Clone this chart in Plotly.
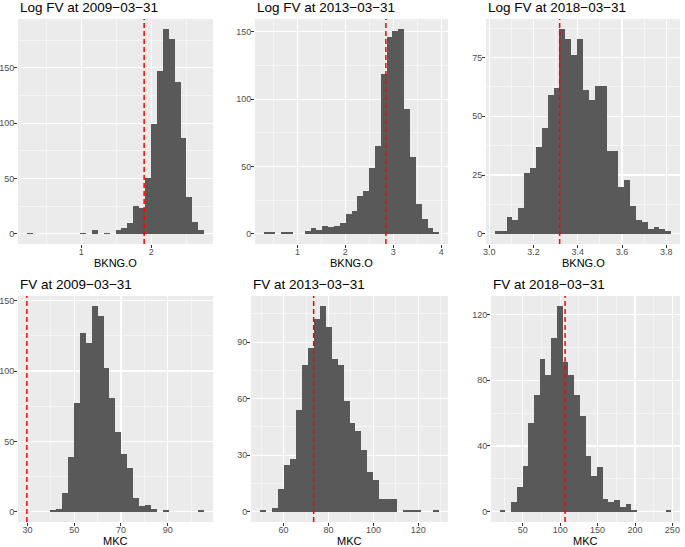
import plotly.graph_objects as go

# ---------------- data ----------------
titles = ["Log FV at 2009−03−31", "Log FV at 2013−03−31", "Log FV at 2018−03−31",
          "FV at 2009−03−31", "FV at 2013−03−31", "FV at 2018−03−31"]
xlabels = ["BKNG.O", "BKNG.O", "BKNG.O", "MKC", "MKC", "MKC"]

p1_start, p1_width = 0.223, 0.0845
p1_counts = [1, 0, 0, 0, 0, 0, 0, 0, 0, 1, 0, 3, 0, 1, 0, 3, 5, 10, 25, 23,
             50, 99, 147, 185, 176, 137, 87, 33, 11, 3]
p1_vline = 1.9

p2_start, p2_width = 0.298, 0.122
p2_counts = [1, 1, 0, 1, 1, 0, 0, 2, 4, 3, 6, 5, 6, 8, 15, 17, 28, 32, 49, 65,
             119, 146, 151, 152, 93, 57, 22, 11, 4, 1]
p2_vline = 2.845

p3_start, p3_width = 3.025, 0.02657
p3_counts = [1, 1, 7, 6, 11, 26, 28, 37, 45, 59, 62, 87, 83, 76, 83, 61, 57, 63, 63, 35,
             35, 20, 23, 12, 6, 5, 2, 3, 2, 1]
p3_vline = 3.318

p4_start, p4_width = 39.7, 2.535
p4_counts = [1, 2, 13, 39, 77, 127, 120, 146, 139, 102, 81, 57, 41, 31, 10, 4, 5, 2, 0, 1,
             0, 0, 0, 0, 0, 1]
p4_vline = 29.7

p5_start, p5_width = 49.5, 2.657
p5_counts = [1, 0, 2, 12, 25, 28, 54, 78, 87, 102, 109, 98, 81, 78, 59, 47, 43, 33, 21, 17,
             7, 7, 7, 0, 1, 1, 1, 0, 0, 1]
p5_vline = 73.4

p6_start, p6_width = 18.9, 7.66
p6_counts = [1, 0, 6, 15, 28, 54, 71, 93, 83, 106, 125, 91, 83, 71, 58, 34, 22, 27, 8, 6,
             7, 3, 5, 1, 0, 0, 0, 0, 0, 1]
p6_vline = 106.5

x_major = [[1, 2], [1, 2, 3, 4], [3.0, 3.2, 3.4, 3.6, 3.8],
           [30, 50, 70, 90], [60, 80, 100, 120], [50, 100, 150, 200, 250]]
x_ticktext = [["1", "2"], ["1", "2", "3", "4"], ["3.0", "3.2", "3.4", "3.6", "3.8"],
              ["30", "50", "70", "90"], ["60", "80", "100", "120"], ["50", "100", "150", "200", "250"]]
x_minor = [[0.5, 1.5, 2.5], [0.5, 1.5, 2.5, 3.5], [3.1, 3.3, 3.5, 3.7],
           [40, 60, 80, 100], [50, 70, 90, 110, 130], [25, 75, 125, 175, 225]]
y_major = [[0, 50, 100, 150], [0, 50, 100, 150], [0, 25, 50, 75],
           [0, 50, 100, 150], [0, 30, 60, 90], [0, 40, 80, 120]]
y_minor = [[25, 75, 125, 175], [25, 75, 125], [12.5, 37.5, 62.5, 87.5],
           [25, 75, 125], [15, 45, 75, 105], [20, 60, 100]]

panels = [
    (p1_start, p1_width, p1_counts, p1_vline),
    (p2_start, p2_width, p2_counts, p2_vline),
    (p3_start, p3_width, p3_counts, p3_vline),
    (p4_start, p4_width, p4_counts, p4_vline),
    (p5_start, p5_width, p5_counts, p5_vline),
    (p6_start, p6_width, p6_counts, p6_vline),
]

# ---------------- layout geometry (pixels) ----------------
W, H = 685, 547
boxes = [  # left, right, top, bottom
    (18, 213, 19, 244), (255, 448, 19, 244), (486, 680, 19, 244),
    (18, 213, 296, 522), (251, 448, 296, 522), (491, 680, 296, 522),
]

FONT = "Liberation Sans, Arial, Helvetica, sans-serif"
PANEL_BG = "#EBEBEB"
BAR = "#595959"

fig = go.Figure()
layout = dict(
    width=W, height=H, margin=dict(l=0, r=0, t=0, b=0, autoexpand=False),
    paper_bgcolor="white", plot_bgcolor=PANEL_BG, showlegend=False,
    bargap=0, font=dict(family=FONT), shapes=[], annotations=[],
)

for i, ((start, width, counts, vline), (l, r, t, b)) in enumerate(zip(panels, boxes)):
    n = i + 1
    xa = "x" if n == 1 else f"x{n}"
    ya = "y" if n == 1 else f"y{n}"
    centers = [start + width * (k + 0.5) for k in range(len(counts))]
    fig.add_trace(go.Bar(x=centers, y=counts, width=[width] * len(counts),
                         marker=dict(color=BAR, line=dict(width=0)),
                         xaxis=xa, yaxis=ya, hoverinfo="skip"))
    lo = min(start, vline)
    hi = max(start + width * len(counts), vline)
    pad = 0.05 * (hi - lo)
    ymax = max(counts)
    axis_common = dict(showline=False, zeroline=False, ticks="outside", ticklen=3,
                       tickcolor="#333333", tickwidth=1, automargin=False,
                       tickfont=dict(size=9, color="#4D4D4D", family=FONT),
                       showgrid=True, gridcolor="white", gridwidth=1.1)
    layout["xaxis" if n == 1 else f"xaxis{n}"] = dict(
        axis_common, domain=[l / W, r / W], range=[lo - pad, hi + pad],
        anchor=ya, tickmode="array", tickvals=x_major[i], ticktext=x_ticktext[i],
        ticklabelstandoff=-4,
        minor=dict(tickvals=x_minor[i], showgrid=True, gridcolor="white", gridwidth=0.5, ticks=""),
    )
    layout["yaxis" if n == 1 else f"yaxis{n}"] = dict(
        axis_common, domain=[1 - b / H, 1 - t / H], range=[-0.05 * ymax, 1.05 * ymax],
        anchor=xa, tickmode="array", tickvals=y_major[i], ticklabelstandoff=-2,
        minor=dict(tickvals=y_minor[i], showgrid=True, gridcolor="white", gridwidth=0.5, ticks=""),
    )
    layout["shapes"].append(dict(type="line", xref=xa, yref=f"{ya} domain",
                                 x0=vline, x1=vline, y0=0, y1=1,
                                 line=dict(color="#FF0000", width=1.5, dash="5px,3px")))
    layout["annotations"].append(dict(text=titles[i], xref="paper", yref="paper",
                                      x=l / W, y=1 - (t - 2) / H, xanchor="left", yanchor="bottom",
                                      showarrow=False, font=dict(size=13.5, color="black", family=FONT)))
    layout["annotations"].append(dict(text=xlabels[i], xref="paper", yref="paper",
                                      x=(l + r) / 2 / W, y=1 - (b + 19) / H, xanchor="center",
                                      yanchor="middle", showarrow=False,
                                      font=dict(size=11, color="black", family=FONT)))

fig.update_layout(**layout)
fig.write_html("out.html", post_script="document.body.style.margin='0px';",
               config={"displayModeBar": False, "staticPlot": True})
